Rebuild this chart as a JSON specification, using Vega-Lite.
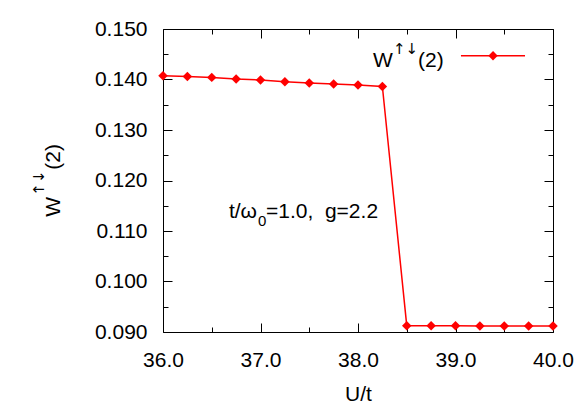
{
  "$schema": "https://vega.github.io/schema/vega-lite/v6.json",
  "width": 390,
  "height": 303,
  "autosize": {"type": "none"},
  "padding": {"left": 163, "top": 29, "right": 33, "bottom": 79},
  "background": "white",
  "config": {
    "view": {"stroke": "black", "strokeWidth": 1},
    "axis": {
      "domain": false, "grid": false,
      "labelFont": "Liberation Sans", "labelFontSize": 21, "labelColor": "black",
      "titleFont": "Liberation Sans", "titleFontSize": 21, "titleFontWeight": "normal", "titleColor": "black",
      "tickColor": "black", "tickWidth": 1
    },
    "text": {"font": "Liberation Sans", "color": "black"}
  },
  "datasets": {
    "series": [
      {"u": 36.00, "w": 0.14075},
      {"u": 36.25, "w": 0.14061},
      {"u": 36.50, "w": 0.14042},
      {"u": 36.75, "w": 0.14010},
      {"u": 37.00, "w": 0.13990},
      {"u": 37.25, "w": 0.13957},
      {"u": 37.50, "w": 0.13931},
      {"u": 37.75, "w": 0.13911},
      {"u": 38.00, "w": 0.13891},
      {"u": 38.25, "w": 0.13863},
      {"u": 38.50, "w": 0.09125},
      {"u": 38.75, "w": 0.09123},
      {"u": 39.00, "w": 0.09122},
      {"u": 39.25, "w": 0.09121},
      {"u": 39.50, "w": 0.09120},
      {"u": 39.75, "w": 0.09119},
      {"u": 40.00, "w": 0.09118}
    ],
    "legendLine": [{"u": 39.056, "w": 0.14471}, {"u": 39.713, "w": 0.14471}],
    "legendPoint": [{"u": 39.385, "w": 0.14471}],
    "textLeft": [
      {"u": 38.154, "w": 0.14253, "t": "W"},
      {"u": 38.615, "w": 0.14253, "t": "(2)"},
      {"u": 37.056, "w": 0.11263, "t": "=1.0,\u00a0\u00a0g=2.2"}
    ],
    "textRight": [
      {"u": 36.964, "w": 0.11263, "t": "t/ω"}
    ],
    "textSub": [
      {"u": 36.974, "w": 0.11105, "t": "0"}
    ],
    "arrows": [
      {"u": 38.359, "w": 0.14511, "t": "↑↓"}
    ],
    "titleBig": [
      {"u": 34.944, "w": 0.11283, "t": "W"},
      {"u": 34.944, "w": 0.12214, "t": "(2)"}
    ],
    "titleSmall": [
      {"u": 34.779, "w": 0.11700, "t": "↑↓"}
    ]
  },
  "resolve": {"axis": {"x": "independent", "y": "independent"}},
  "layer": [
    {
      "data": {"name": "series"},
      "mark": {"type": "line", "color": "#ff0000", "strokeWidth": 1.5},
      "encoding": {
        "x": {"field": "u", "type": "quantitative",
              "scale": {"domain": [36, 40], "nice": false, "zero": false},
              "axis": {"orient": "bottom", "values": [36, 37, 38, 39, 40], "format": ".1f", "ticks": false, "labelPadding": 17, "title": "U/t", "titlePadding": 13, "labelFlush": false}},
        "y": {"field": "w", "type": "quantitative",
              "scale": {"domain": [0.09, 0.15], "nice": false, "zero": false},
              "axis": {"orient": "left", "values": [0.09, 0.1, 0.11, 0.12, 0.13, 0.14, 0.15], "format": ".3f", "ticks": false, "labelPadding": 16, "title": null, "labelFlush": false}}
      }
    },
    {
      "data": {"name": "series"},
      "mark": {"type": "point", "shape": "diamond", "filled": true, "color": "#ff0000", "size": 90, "opacity": 1},
      "encoding": {
        "x": {"field": "u", "type": "quantitative",
              "axis": {"orient": "bottom", "values": [36, 37, 38, 39, 40], "labels": false, "tickSize": -9, "title": null}},
        "y": {"field": "w", "type": "quantitative",
              "axis": {"orient": "left", "values": [0.09, 0.1, 0.11, 0.12, 0.13, 0.14, 0.15], "labels": false, "tickSize": -9, "title": null}}
      }
    },
    {
      "data": {"name": "series"},
      "mark": {"type": "point", "opacity": 0},
      "encoding": {
        "x": {"field": "u", "type": "quantitative",
              "axis": {"orient": "bottom", "values": [36.5, 37.5, 38.5, 39.5], "labels": false, "tickSize": -5, "title": null}},
        "y": {"field": "w", "type": "quantitative",
              "axis": {"orient": "left", "values": [0.095, 0.105, 0.115, 0.125, 0.135, 0.145], "labels": false, "tickSize": -5, "title": null}}
      }
    },
    {
      "data": {"name": "series"},
      "mark": {"type": "point", "opacity": 0},
      "encoding": {
        "x": {"field": "u", "type": "quantitative",
              "axis": {"orient": "top", "values": [36, 37, 38, 39, 40], "labels": false, "tickSize": -9, "title": null}},
        "y": {"field": "w", "type": "quantitative",
              "axis": {"orient": "right", "values": [0.09, 0.1, 0.11, 0.12, 0.13, 0.14, 0.15], "labels": false, "tickSize": -9, "title": null}}
      }
    },
    {
      "data": {"name": "series"},
      "mark": {"type": "point", "opacity": 0},
      "encoding": {
        "x": {"field": "u", "type": "quantitative",
              "axis": {"orient": "top", "values": [36.5, 37.5, 38.5, 39.5], "labels": false, "tickSize": -5, "title": null}},
        "y": {"field": "w", "type": "quantitative",
              "axis": {"orient": "right", "values": [0.095, 0.105, 0.115, 0.125, 0.135, 0.145], "labels": false, "tickSize": -5, "title": null}}
      }
    },
    {
      "data": {"name": "legendLine"},
      "mark": {"type": "line", "color": "#ff0000", "strokeWidth": 1.5},
      "encoding": {
        "x": {"field": "u", "type": "quantitative", "axis": null},
        "y": {"field": "w", "type": "quantitative", "axis": null}
      }
    },
    {
      "data": {"name": "legendPoint"},
      "mark": {"type": "point", "shape": "diamond", "filled": true, "color": "#ff0000", "size": 90, "opacity": 1},
      "encoding": {
        "x": {"field": "u", "type": "quantitative", "axis": null},
        "y": {"field": "w", "type": "quantitative", "axis": null}
      }
    },
    {
      "data": {"name": "textLeft"},
      "mark": {"type": "text", "align": "left", "baseline": "alphabetic", "fontSize": 21},
      "encoding": {
        "x": {"field": "u", "type": "quantitative", "axis": null},
        "y": {"field": "w", "type": "quantitative", "axis": null},
        "text": {"field": "t"}
      }
    },
    {
      "data": {"name": "textRight"},
      "mark": {"type": "text", "align": "right", "baseline": "alphabetic", "fontSize": 21},
      "encoding": {
        "x": {"field": "u", "type": "quantitative", "axis": null},
        "y": {"field": "w", "type": "quantitative", "axis": null},
        "text": {"field": "t"}
      }
    },
    {
      "data": {"name": "textSub"},
      "mark": {"type": "text", "align": "left", "baseline": "alphabetic", "fontSize": 15},
      "encoding": {
        "x": {"field": "u", "type": "quantitative", "axis": null},
        "y": {"field": "w", "type": "quantitative", "axis": null},
        "text": {"field": "t"}
      }
    },
    {
      "data": {"name": "arrows"},
      "mark": {"type": "text", "align": "left", "baseline": "alphabetic", "fontSize": 15, "font": "DejaVu Sans"},
      "encoding": {
        "x": {"field": "u", "type": "quantitative", "axis": null},
        "y": {"field": "w", "type": "quantitative", "axis": null},
        "text": {"field": "t"}
      }
    },
    {
      "data": {"name": "titleBig"},
      "mark": {"type": "text", "align": "left", "baseline": "alphabetic", "fontSize": 21, "angle": 270},
      "encoding": {
        "x": {"field": "u", "type": "quantitative", "axis": null},
        "y": {"field": "w", "type": "quantitative", "axis": null},
        "text": {"field": "t"}
      }
    },
    {
      "data": {"name": "titleSmall"},
      "mark": {"type": "text", "align": "left", "baseline": "alphabetic", "fontSize": 15, "angle": 270, "font": "DejaVu Sans"},
      "encoding": {
        "x": {"field": "u", "type": "quantitative", "axis": null},
        "y": {"field": "w", "type": "quantitative", "axis": null},
        "text": {"field": "t"}
      }
    }
  ]
}
